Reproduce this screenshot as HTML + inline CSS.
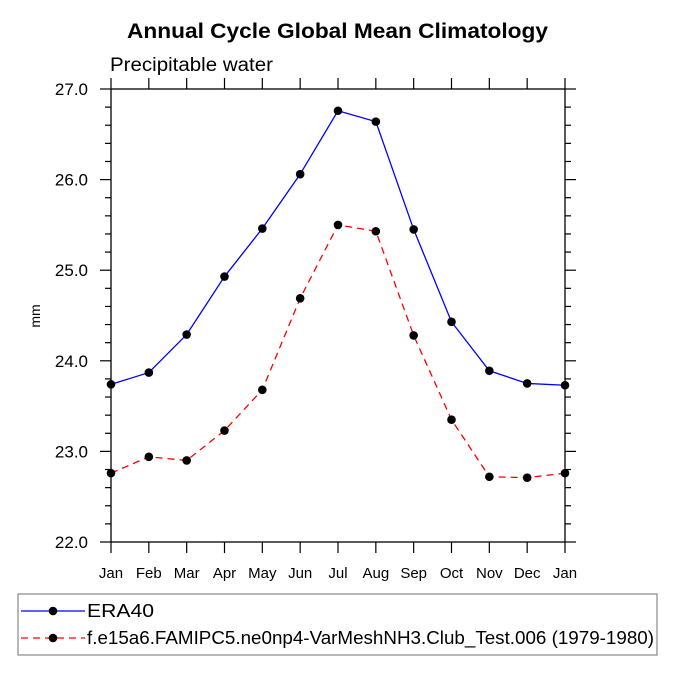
<!DOCTYPE html>
<html><head><meta charset="utf-8"><style>
body{margin:0;background:#fff;}
svg{display:block;font-family:"Liberation Sans",Arial,sans-serif;}
</style></head><body>
<svg id="chart" width="675" height="675" viewBox="0 0 675 675">
<text x="127" y="38" font-size="21" font-weight="bold" textLength="421" lengthAdjust="spacingAndGlyphs">Annual Cycle Global Mean Climatology</text>
<text x="110" y="71" font-size="19" textLength="163" lengthAdjust="spacingAndGlyphs">Precipitable water</text>
<text x="40" y="316" font-size="14" text-anchor="middle" transform="rotate(-90 40 316)">mm</text>
<rect x="111" y="89" width="454" height="453" fill="none" stroke="#000" stroke-width="1.3"/>
<g id="axes"></g>
<g id="series"></g>
<rect x="18" y="594" width="639" height="61" fill="none" stroke="#888" stroke-width="1.2"/>
<g>
<line x1="21" y1="611" x2="85" y2="611" stroke="#00f" stroke-width="1.3"/>
<circle cx="53" cy="611" r="4.3" fill="#000"/>
<text x="87" y="617" font-size="18.5" textLength="67" lengthAdjust="spacingAndGlyphs">ERA40</text>
</g>
<g>
<line x1="21" y1="638" x2="85" y2="638" stroke="#f00" stroke-width="1.3" stroke-dasharray="7,5"/>
<circle cx="53" cy="638" r="4.3" fill="#000"/>
<text x="87" y="644" font-size="18.5" textLength="567" lengthAdjust="spacingAndGlyphs">f.e15a6.FAMIPC5.ne0np4-VarMeshNH3.Club_Test.006 (1979-1980)</text>
</g>
</svg>
<script>
const months=["Jan","Feb","Mar","Apr","May","Jun","Jul","Aug","Sep","Oct","Nov","Dec","Jan"];
const era40=[23.74,23.87,24.29,24.93,25.46,26.06,26.76,26.64,25.45,24.43,23.89,23.75,23.73];
const model=[22.76,22.94,22.90,23.23,23.68,24.69,25.50,25.43,24.28,23.35,22.72,22.71,22.76];
const yTicks=["22.0","23.0","24.0","25.0","26.0","27.0"];
const NS="http://www.w3.org/2000/svg";
const X0=111,X1=565,Y0=542,Y1=89,YMIN=22,YMAX=27;
function xs(i){return X0+(X1-X0)*i/(months.length-1);}
function ys(v){return Y0-(Y0-Y1)*(v-YMIN)/(YMAX-YMIN);}
function mk(tag,attrs,parent){const e=document.createElementNS(NS,tag);for(const k in attrs)e.setAttribute(k,attrs[k]);parent.appendChild(e);return e;}
const ax=document.getElementById('axes');
months.forEach((m,i)=>{
 const x=xs(i);
 let t=mk('line',{x1:x,y1:Y0,x2:x,y2:Y0+11,stroke:'#000','stroke-width':1.2},ax);
 
 
 let t2=mk('line',{x1:x,y1:Y1,x2:x,y2:Y1-11,stroke:'#000','stroke-width':1.2},ax);
 
 
 let l=mk('text',{x:x,y:578,'font-size':15,'text-anchor':'middle'},ax);
 l.textContent=m;
 
 
});
for(let v=YMIN;v<=YMAX+1e-9;v+=0.2){
 const y=ys(v);const major=Math.abs(v-Math.round(v))<1e-6;const len=major?11:6;
 mk('line',{x1:X0,y1:y,x2:X0-len,y2:y,stroke:'#000','stroke-width':1.2},ax);
 mk('line',{x1:X1,y1:y,x2:X1+len,y2:y,stroke:'#000','stroke-width':1.2},ax);
}
yTicks.forEach(s=>{
 let l=mk('text',{x:88,y:ys(parseFloat(s))+6,'font-size':17,'text-anchor':'end'},ax);
 l.textContent=s;
 
 
});
const sg=document.getElementById('series');
function draw(vals,color,dash,name){
 const g=mk('g',{},sg);
 
 
 const p=mk('polyline',{points:vals.map((v,i)=>xs(i)+','+ys(v)).join(' '),fill:'none',stroke:color,'stroke-width':1.3},g);
 if(dash)p.setAttribute('stroke-dasharray','7,5');
 vals.forEach((v,i)=>{
  const c=mk('circle',{cx:xs(i),cy:ys(v),r:4.3,fill:'#000'},g);
  
  
 });
}
draw(era40,'#00f',false,'era40-series');
draw(model,'#f00',true,'model-series');
</script>
</body></html>
